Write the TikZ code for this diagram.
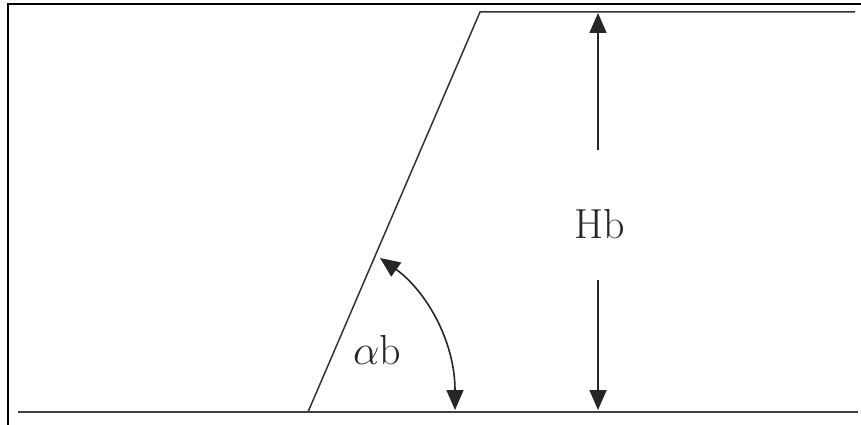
\RequirePackage{fix-cm}
\documentclass[tikz,border=0pt]{standalone}
\usetikzlibrary{arrows.meta}
\begin{document}
\begin{tikzpicture}[x=1pt,y=-1pt,
  frame/.style={line width=2.2pt,black},
  ground/.style={line width=2.4pt,black!75},
  thin/.style={line width=1.5pt,black!80},
  dimarrow/.style={line width=1.6pt,black!85,-{Triangle[length=20pt,width=17pt]}},
  lbl/.style={font=\fontsize{42}{46}\selectfont,text=black!85,inner sep=0pt}]
\useasboundingbox (0,0) rectangle (861,425);
\fill[white] (0,0) rectangle (861,425);
% coordinates
\coordinate (fl) at (8,425);
\coordinate (ftl) at (8,4);
\coordinate (ftr) at (861,4);
\coordinate (gl) at (18,412);
\coordinate (gr) at (858,412);
\coordinate (sb) at (308,412);
\coordinate (st) at (480,12);
\coordinate (tr) at (855,12);
\coordinate (ut) at (598,13);
\coordinate (ub) at (598,150);
\coordinate (dt) at (598,280);
\coordinate (db) at (598,410);
\coordinate (aa) at (455,410);
\coordinate (ab) at (380,258);
% frame
\draw[frame] (fl) -- (ftl) -- (ftr);
% ground and slope
\draw[ground] (gl) -- (gr);
\draw[thin] (sb) -- (st) -- (tr);
% height arrows
\draw[dimarrow] (ub) -- (ut);
\draw[dimarrow] (dt) -- (db);
\node[lbl] (hb) at (600,224) {Hb};
% angle arc
\draw[line width=1.6pt,black!85,{Triangle[length=20pt,width=17pt]}-{Triangle[length=20pt,width=17pt]}]
  (ab) .. controls (425,290) and (455,340) .. (aa);
\node[lbl] (alpha) at (377,350) {$\alpha$b};
\end{tikzpicture}
\end{document}
